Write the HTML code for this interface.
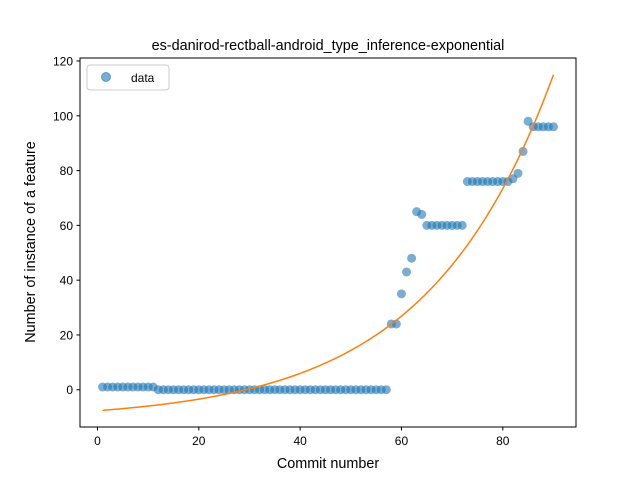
<!DOCTYPE html>
<html><head><meta charset="utf-8"><style>
body{margin:0;background:#fff;}
svg{display:block;font-family:"Liberation Sans","DejaVu Sans",sans-serif;}
</style></head><body>
<svg id="chart" width="640" height="480">
<rect x="0" y="0" width="640" height="480" fill="#fff"/>
<g id="plot"></g>
<rect x="80" y="58" width="496" height="369" fill="none" stroke="#000" stroke-width="1"/>
<g id="axes"></g>
<text x="328" y="50" text-anchor="middle" font-size="14.4">es-danirod-rectball-android_type_inference-exponential</text>
<text x="328" y="468" text-anchor="middle" font-size="14.4">Commit number</text>
<text transform="translate(35,242) rotate(-90)" text-anchor="middle" font-size="14.4">Number of instance of a feature</text>
<g>
<rect x="87" y="65" width="82" height="25" rx="3" fill="#fff" stroke="#ccc"/>
<circle cx="106" cy="77" r="4.5" fill="#1f77b4" fill-opacity="0.6" stroke="#1f77b4" stroke-opacity="0.6"/>
<text x="131" y="82" font-size="12">data</text>
</g>
</svg>
<script>
const xs = Array.from({length:90},(_,i)=>i+1);
const values = [1,1,1,1,1,1,1,1,1,1,1,
0,0,0,0,0,0,0,0,0,0,0,0,0,0,0,0,0,0,0,0,0,0,0,0,0,0,0,0,0,0,0,0,0,0,0,0,0,0,0,0,0,0,0,0,0,0,
24,24,35,43,48,65,64,60,60,60,60,60,60,60,60,
76,76,76,76,76,76,76,76,76,77,79,87,98,96,96,96,96,96];
const fitParams = [3.445, 0.04, -11.1];
const xTicks = [0,20,40,60,80];
const yTicks = [0,20,40,60,80,100,120];
const xMin=-3.45, xMax=94.45, yMin=-13.6, yMax=121.1;
const sx = v => 80 + (v - xMin) / (xMax - xMin) * 496;
const sy = v => 427 - (v - yMin) / (yMax - yMin) * 369;
const NS='http://www.w3.org/2000/svg';
const plot=document.getElementById('plot'), axes=document.getElementById('axes');
values.forEach((v,i)=>{
  const c=document.createElementNS(NS,'circle');
  c.setAttribute('cx',sx(xs[i]));c.setAttribute('cy',sy(v));c.setAttribute('r',4.5);
  c.setAttribute('fill','#1f77b4');c.setAttribute('fill-opacity','0.6');
  
  
  plot.appendChild(c);
});
let d='';
for(let x=1;x<=90;x+=0.5){const y=fitParams[0]*Math.exp(fitParams[1]*x)+fitParams[2];d+=(d?'L':'M')+sx(x).toFixed(2)+','+sy(y).toFixed(2);}
const p=document.createElementNS(NS,'path');
p.setAttribute('d',d);p.setAttribute('fill','none');p.setAttribute('stroke','#ff7f0e');p.setAttribute('stroke-width','1.5');


plot.appendChild(p);
xTicks.forEach(t=>{
  const x=sx(t);
  const l=document.createElementNS(NS,'line');
  l.setAttribute('x1',x);l.setAttribute('x2',x);l.setAttribute('y1',427);l.setAttribute('y2',430.5);l.setAttribute('stroke','#000');
  
  
  axes.appendChild(l);
  const tx=document.createElementNS(NS,'text');
  tx.setAttribute('x',x);tx.setAttribute('y',445);tx.setAttribute('text-anchor','middle');tx.setAttribute('font-size','12');
  tx.textContent=t;
  
  
  axes.appendChild(tx);
});
yTicks.forEach(t=>{
  const y=sy(t);
  const l=document.createElementNS(NS,'line');
  l.setAttribute('x1',76.5);l.setAttribute('x2',80);l.setAttribute('y1',y);l.setAttribute('y2',y);l.setAttribute('stroke','#000');
  
  
  axes.appendChild(l);
  const tx=document.createElementNS(NS,'text');
  tx.setAttribute('x',73);tx.setAttribute('y',y+4.5);tx.setAttribute('text-anchor','end');tx.setAttribute('font-size','12');
  tx.textContent=t;
  
  
  axes.appendChild(tx);
});
</script>
</body></html>
